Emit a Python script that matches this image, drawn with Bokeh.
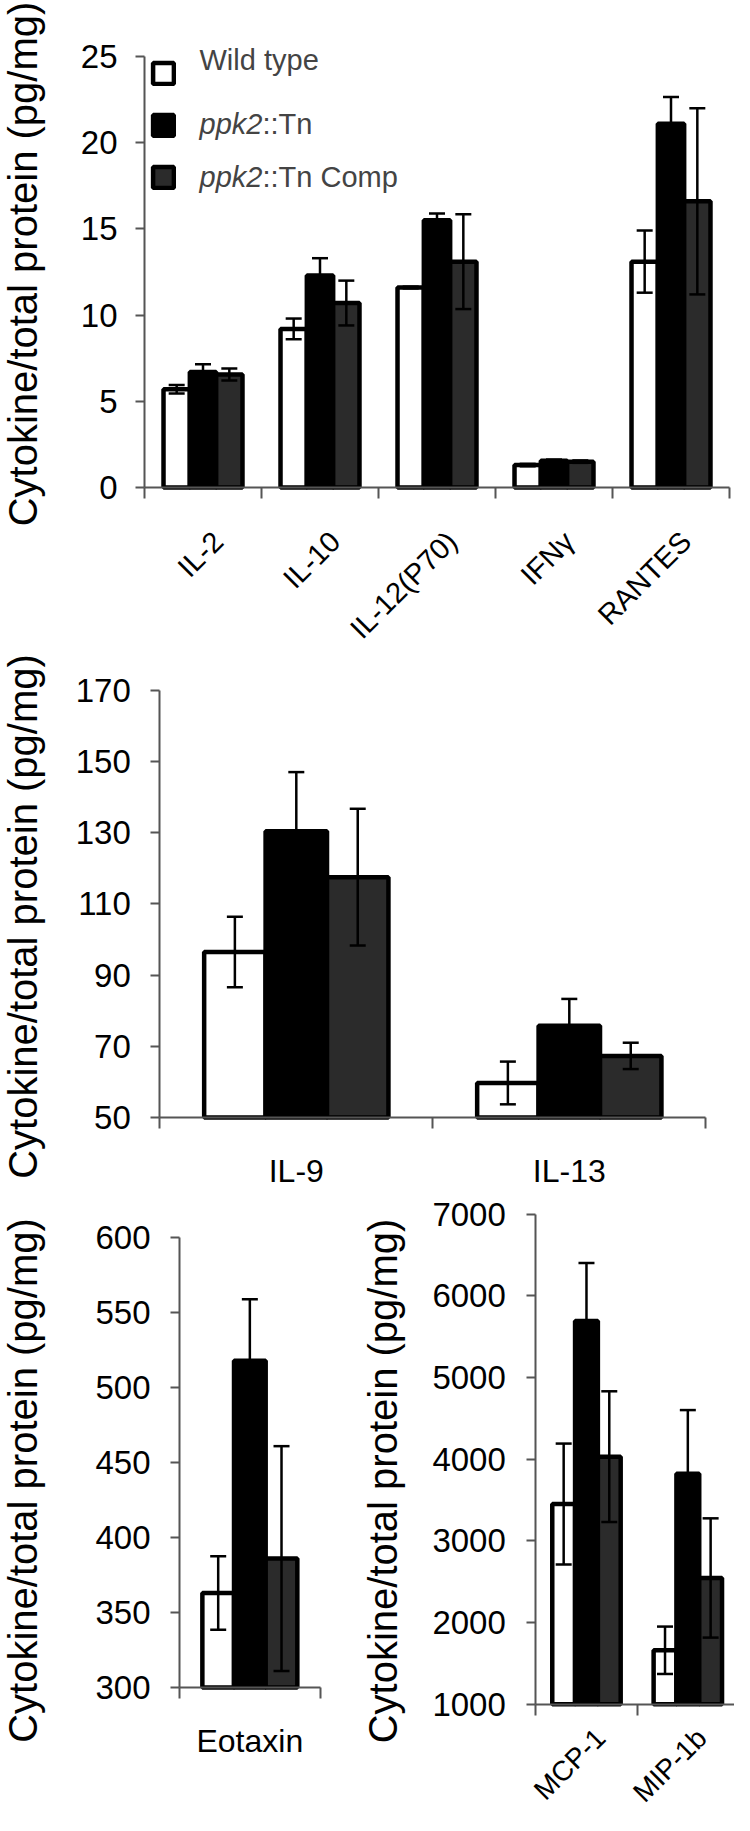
from math import pi
import numpy as np
from bokeh.plotting import figure
from bokeh.models import (Range1d, FixedTicker, ColumnDataSource, Whisker, TeeHead,
                          Legend, LegendItem, Label)
from bokeh.layouts import column, row
from bokeh.embed import file_html
from bokeh.resources import INLINE

# ---------------- data ----------------
series_names = ["Wild type", "ppk2::Tn", "ppk2::Tn Comp"]

top_categories = ["IL-2", "IL-10", "IL-12(P70)", "IFNγ", "RANTES"]
top_wild_type = [5.7, 9.2, 11.6, 1.3, 13.1]
top_wild_type_err = [0.25, 0.6, 0.05, 0.07, 1.8]
top_ppk2_tn = [6.7, 12.3, 15.5, 1.55, 21.1]
top_ppk2_tn_err = [0.45, 1.0, 0.4, 0.07, 1.55]
top_ppk2_comp = [6.55, 10.7, 13.1, 1.5, 16.6]
top_ppk2_comp_err = [0.35, 1.3, 2.75, 0.07, 5.4]
top_y_ticks = [0, 5, 10, 15, 20, 25]

mid_categories = ["IL-9", "IL-13"]
mid_wild_type = [96.5, 59.7]
mid_wild_type_err = [9.9, 6.0]
mid_ppk2_tn = [130.4, 75.8]
mid_ppk2_tn_err = [16.6, 7.5]
mid_ppk2_comp = [117.5, 67.3]
mid_ppk2_comp_err = [19.2, 3.7]
mid_y_ticks = [50, 70, 90, 110, 130, 150, 170]

eot_categories = ["Eotaxin"]
eot_wild_type = [363]
eot_wild_type_err = [24.5]
eot_ppk2_tn = [518]
eot_ppk2_tn_err = [41]
eot_ppk2_comp = [386]
eot_ppk2_comp_err = [75]
eot_y_ticks = [300, 350, 400, 450, 500, 550, 600]

mcp_categories = ["MCP-1", "MIP-1b"]
mcp_wild_type = [3450, 1660]
mcp_wild_type_err = [740, 290]
mcp_ppk2_tn = [5690, 3820]
mcp_ppk2_tn_err = [710, 780]
mcp_ppk2_comp = [4030, 2545]
mcp_ppk2_comp_err = [800, 730]
mcp_y_ticks = [1000, 2000, 3000, 4000, 5000, 6000, 7000]

y_title = "Cytokine/total protein (pg/mg)"

# ---------------- style ----------------
FONT = "Liberation Sans"
AXIS_COLOR = "#555555"
FILLS = ["#ffffff", "#000000", "#2b2b2b"]
BAR_W = 0.225
OFFSETS = [-BAR_W, 0.0, BAR_W]


def make_chart(cats, means, errs, yticks, canvas, axis_px, rotate, cat_font,
               cat_standoff, cat_shift_px, ytick_standoff, title_anchor):
    """canvas / axis_px / title_anchor are page-pixel layout positions."""
    X0, Y0, X1, Y1 = canvas
    xl, xr, ytop, ybot = axis_px
    n = len(cats)
    ymin, ymax = yticks[0], yticks[-1]
    u = (xr - xl) / n
    v = (ybot - ytop) / (ymax - ymin)
    p = figure(width=X1 - X0, height=Y1 - Y0,
               x_range=Range1d(-(xl - X0) / u, n + (X1 - xr) / u),
               y_range=Range1d(ymin - (Y1 - ybot) / v, ymax + (ytop - Y0) / v),
               output_backend="svg", toolbar_location=None, min_border=0)
    p.outline_line_color = None
    p.xgrid.visible = False
    p.ygrid.visible = False

    centers = np.arange(n) + 0.5
    renderers = []
    for k in range(3):
        m = np.array(means[k], dtype=float)
        e = np.array(errs[k], dtype=float)
        src = ColumnDataSource(dict(x=centers + OFFSETS[k], top=m,
                                    upper=m + e, lower=m - e))
        r = p.vbar(x="x", top="top", bottom=ymin, width=BAR_W, source=src,
                   fill_color=FILLS[k], line_color="black", line_width=4.5)
        renderers.append(r)
        w = Whisker(base="x", upper="upper", lower="lower", source=src,
                    dimension="height", level="annotation",
                    line_color="black", line_width=2.5,
                    upper_head=TeeHead(size=16, line_width=2.5, line_color="black"),
                    lower_head=TeeHead(size=16, line_width=2.5, line_color="black"))
        p.add_layout(w)

    label_pos = centers + cat_shift_px / u
    xa = p.xaxis[0]
    xa.fixed_location = ymin
    xa.bounds = (0, n)
    xa.ticker = FixedTicker(ticks=list(label_pos), minor_ticks=list(range(n + 1)))
    xa.major_label_overrides = {float(c): name for c, name in zip(label_pos, cats)}
    xa.major_tick_line_color = None
    xa.major_tick_out = 0
    xa.major_tick_in = 0
    xa.minor_tick_line_color = AXIS_COLOR
    xa.minor_tick_line_width = 2
    xa.minor_tick_out = 11
    xa.minor_tick_in = 0
    xa.axis_line_color = AXIS_COLOR
    xa.axis_line_width = 2
    xa.major_label_text_font = FONT
    xa.major_label_text_font_size = cat_font
    xa.major_label_text_color = "black"
    xa.major_label_orientation = pi / 4 if rotate else "horizontal"
    xa.major_label_standoff = cat_standoff

    ya = p.yaxis[0]
    ya.fixed_location = 0
    ya.bounds = (ymin, ymax)
    ya.ticker = FixedTicker(ticks=yticks)
    ya.major_tick_out = 9
    ya.major_tick_in = 0
    ya.major_tick_line_color = AXIS_COLOR
    ya.major_tick_line_width = 2
    ya.minor_tick_line_color = None
    ya.axis_line_color = AXIS_COLOR
    ya.axis_line_width = 2
    ya.major_label_text_font = FONT
    ya.major_label_text_font_size = "33px"
    ya.major_label_text_color = "black"
    ya.major_label_standoff = ytick_standoff

    # vertical y-axis title, placed in px from the canvas bottom-left
    tx, ty = title_anchor
    p.add_layout(Label(x=tx - X0, y=Y1 - ty, x_units="screen", y_units="screen",
                       text=y_title, angle=pi / 2, text_align="center",
                       text_baseline="middle", text_font=FONT,
                       text_font_size="40px", text_color="black"))
    return p, renderers


TOP_CANVAS = (8, 8, 742, 660)
top, top_r = make_chart(
    top_categories,
    [top_wild_type, top_ppk2_tn, top_ppk2_comp],
    [top_wild_type_err, top_ppk2_tn_err, top_ppk2_comp_err],
    top_y_ticks, TOP_CANVAS, (152, 737, 64, 495), True, "29px", 38, 15, 18,
    (30.5, 271.5))

# legend squares (drawn by Bokeh's legend, texts added separately)
legend = Legend(items=[LegendItem(label=" ", renderers=[r]) for r in top_r],
                location=(150, 462), orientation="vertical",
                glyph_width=26, glyph_height=26, label_width=0, label_height=21,
                label_standoff=0, spacing=26, padding=0, margin=0,
                border_line_color=None, background_fill_alpha=0,
                label_text_font_size="1px")
top.add_layout(legend)

# legend texts (gene name in italics); positions in px from the canvas bottom-left
LEG_SIZE = "29px"
canvas_bottom = TOP_CANVAS[3]
leg_rows = [canvas_bottom - 67.8, canvas_bottom - 131.3, canvas_bottom - 184.6]
top.add_layout(Label(x=199, y=leg_rows[0], x_units="screen", y_units="screen",
                     text=series_names[0], text_font=FONT, text_font_size=LEG_SIZE,
                     text_baseline="middle"))
for row_y, name in zip(leg_rows[1:], series_names[1:]):
    gene, rest = name.split("::", 1)
    top.add_layout(Label(x=199, y=row_y, x_units="screen", y_units="screen",
                         text=gene, text_font=FONT, text_font_size=LEG_SIZE,
                         text_font_style="italic", text_baseline="middle"))
    top.add_layout(Label(x=262, y=row_y, x_units="screen", y_units="screen",
                         text="::" + rest, text_font=FONT, text_font_size=LEG_SIZE,
                         text_baseline="middle"))

mid, _ = make_chart(
    mid_categories,
    [mid_wild_type, mid_ppk2_tn, mid_ppk2_comp],
    [mid_wild_type_err, mid_ppk2_tn_err, mid_ppk2_comp_err],
    mid_y_ticks, (8, 660, 742, 1195), (167.3, 713.3, 697.7, 1125), False, "32px",
    24, 0, 20, (30.5, 924))

eot, _ = make_chart(
    eot_categories,
    [eot_wild_type, eot_ppk2_tn, eot_ppk2_comp],
    [eot_wild_type_err, eot_ppk2_tn_err, eot_ppk2_comp_err],
    eot_y_ticks, (8, 1195, 368, 1823), (187, 327.7, 1245.3, 1695), False, "32px",
    24, 0, 20, (30.5, 1488))

mcp, _ = make_chart(
    mcp_categories,
    [mcp_wild_type, mcp_ppk2_tn, mcp_ppk2_comp],
    [mcp_wild_type_err, mcp_ppk2_tn_err, mcp_ppk2_comp_err],
    mcp_y_ticks, (368, 1195, 742, 1823), (543.3, 746, 1221.5, 1711.7), True, "28px",
    18, 14, 21, (390.5, 1488.5))

layout = column(top, mid, row(eot, mcp))

with open("out.html", "w") as f:
    f.write(file_html(layout, INLINE, title="Cytokines"))
